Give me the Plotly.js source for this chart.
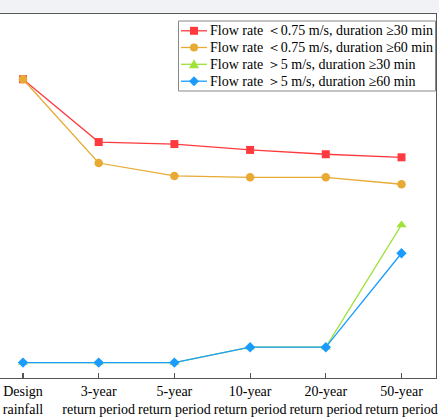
<!DOCTYPE html>
<html>
<head>
<meta charset="utf-8">
<script src="https://cdn.plot.ly/plotly-3.0.1.min.js"></script>
<style>html,body{margin:0;padding:0;background:#fff;}#chart{width:439px;height:419px;}</style>
</head>
<body>
<div id="chart"></div>
<script>
var categories = ['Design<br>rainfall', '3-year<br>return period', '5-year<br>return period', '10-year<br>return period', '20-year<br>return period', '50-year<br>return period'];
var seriesNames = [
  'Flow rate \uFF1C0.75 m/s, duration \u226530 min',
  'Flow rate \uFF1C0.75 m/s, duration \u226560 min',
  'Flow rate \uFF1E5 m/s, duration \u226530 min',
  'Flow rate \uFF1E5 m/s, duration \u226560 min'
];
var lowFlow30 = [19.40, 15.32, 15.19, 14.81, 14.53, 14.33];
var lowFlow60 = [19.40, 13.96, 13.12, 13.03, 13.03, 12.58];
var highFlow30 = [1, 1, 1, 2, 2, 9.94];
var highFlow60 = [1, 1, 1, 2, 2, 8.10];

var colors = ['#ff3a3f', '#e8aa32', '#9ee23a', '#1a9cff'];
var symbols = ['square', 'circle', 'triangle-up', 'diamond'];
var sizes = [8, 8.5, 9, 8];
var values = [lowFlow30, lowFlow60, highFlow30, highFlow60];

var xIdx = categories.map(function(c, i){ return i; });
var traces = values.map(function(v, i){
  return {
    x: xIdx, y: v, name: seriesNames[i], type: 'scatter', mode: 'lines+markers',
    line: {color: colors[i], width: 1.3},
    marker: {color: colors[i], symbol: symbols[i], size: sizes[i], line: {width: 0}},
    showlegend: false
  };
});

var W = 436, H = 364, T = 14;
function px(x){ return x / W; }
function py(y){ return 1 - (y - T) / H; }

var shapes = [
  {type: 'rect', xref: 'paper', yref: 'paper', x0: -0.05, x1: 1.05, y0: py(12.5), y1: py(-6),
   fillcolor: '#f0f2f5', line: {width: 0}, layer: 'below'},
  {type: 'rect', xref: 'paper', yref: 'paper', x0: px(178.5), x1: px(435.5), y0: py(91), y1: py(21),
   fillcolor: 'rgba(255,255,255,0)', line: {color: '#888', width: 1}}
];
var annotations = [];
var legY = [30.8, 47.5, 64.3, 81.2];
var lx0 = 181, lx1 = 207, mx = 194;
seriesNames.forEach(function(name, i){
  var y = legY[i];
  shapes.push({type: 'line', xref: 'paper', yref: 'paper', x0: px(lx0), x1: px(lx1), y0: py(y), y1: py(y),
    line: {color: colors[i], width: 1.3}});
  var s;
  if (symbols[i] === 'square') {
    s = {type: 'rect', x0: px(mx-4), x1: px(mx+4), y0: py(y+4), y1: py(y-4)};
  } else if (symbols[i] === 'circle') {
    s = {type: 'circle', x0: px(mx-4), x1: px(mx+4), y0: py(y+4), y1: py(y-4)};
  } else if (symbols[i] === 'triangle-up') {
    s = {type: 'path', path: 'M' + px(mx-5) + ',' + py(y+4) + ' L' + px(mx+5) + ',' + py(y+4) + ' L' + px(mx) + ',' + py(y-5) + ' Z'};
  } else {
    s = {type: 'path', path: 'M' + px(mx) + ',' + py(y-5) + ' L' + px(mx+5) + ',' + py(y) + ' L' + px(mx) + ',' + py(y+5) + ' L' + px(mx-5) + ',' + py(y) + ' Z'};
  }
  s.xref = 'paper'; s.yref = 'paper'; s.fillcolor = colors[i]; s.line = {width: 0};
  shapes.push(s);
  annotations.push({xref: 'paper', yref: 'paper', x: px(209), y: py(y), xanchor: 'left', yanchor: 'middle',
    text: name, showarrow: false, font: {size: 14, color: '#000'}, borderpad: 0});
});

var layout = {
  width: 439, height: 419,
  margin: {l: 0, r: 3, t: T, b: 41},
  paper_bgcolor: '#ffffff', plot_bgcolor: '#ffffff',
  showlegend: false,
  font: {family: '"Liberation Serif", "Times New Roman", serif', color: '#000', size: 14},
  xaxis: {
    range: [-23/75.7, (436-23)/75.7],
    tickmode: 'array', tickvals: xIdx, ticktext: categories,
    showgrid: false, zeroline: false,
    showline: true, linecolor: '#555', linewidth: 1.3, mirror: true,
    ticks: 'inside', ticklen: 5, tickcolor: '#555', tickwidth: 1.2,
    tickfont: {size: 14, color: '#000'}
  },
  yaxis: {
    range: [0, 364/15.4], side: 'right',
    showgrid: false, zeroline: false, showticklabels: false, ticks: '',
    showline: true, linecolor: '#555', linewidth: 1.3
  },
  shapes: shapes,
  annotations: annotations
};

Plotly.newPlot('chart', traces, layout, {displayModeBar: false, staticPlot: true});
</script>
</body>
</html>
